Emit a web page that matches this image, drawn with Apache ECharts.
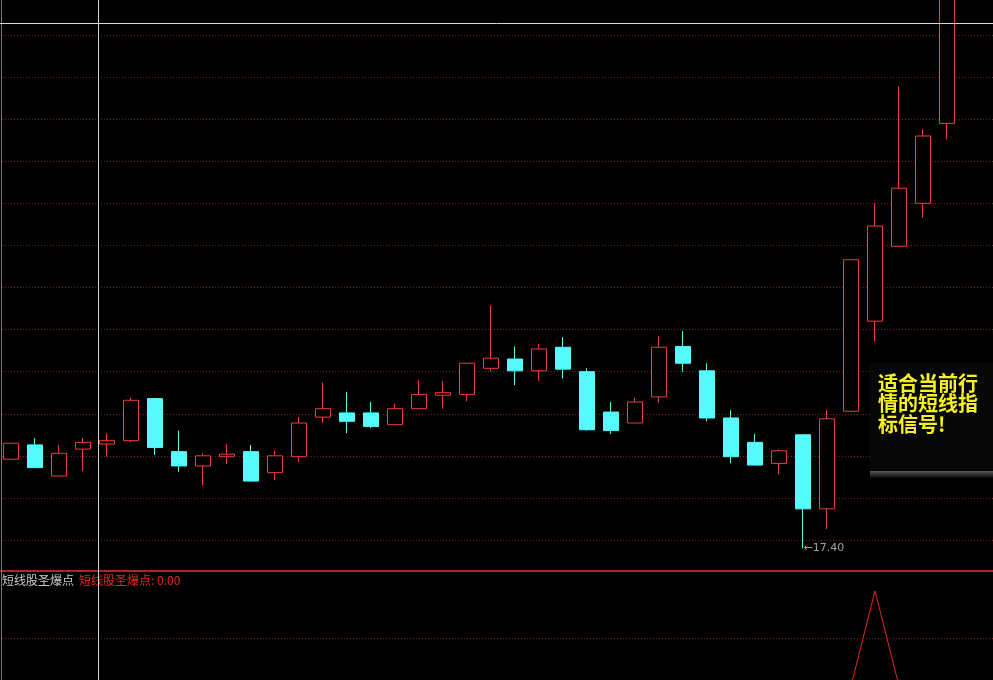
<!DOCTYPE html>
<html><head><meta charset="utf-8">
<script src="https://cdn.jsdelivr.net/npm/echarts@6/dist/echarts.min.js"></script>
<style>html,body{margin:0;padding:0;background:#000;}#c{width:993px;height:680px;}</style>
</head><body><div id="c"></div>
<script>
// ---- data ----
const days = ['1','2','3','4','5','6','7','8','9','10','11','12','13','14','15','16','17','18','19','20',
  '21','22','23','24','25','26','27','28','29','30','31','32','33','34','35','36','37','38','39','40','',''];
const opens  = [18.46,18.63,18.26,18.58,18.64,18.68,19.18,18.55,18.38,18.49,18.55,18.30,18.49,18.96,19.01,19.01,18.87,19.06,19.22,19.23,19.54,19.65,19.51,19.79,19.50,19.02,18.89,19.20,19.80,19.51,18.95,18.66,18.41,18.75,17.87,19.03,20.10,20.99,21.50,22.45];
const closes = [18.65,18.36,18.53,18.66,18.68,19.16,18.60,18.38,18.50,18.52,18.20,18.50,18.89,19.06,18.91,18.85,19.06,19.23,19.25,19.60,19.66,19.51,19.77,19.53,18.81,18.80,19.14,19.79,19.60,18.95,18.49,18.39,18.56,17.87,18.94,20.83,21.23,21.68,22.30,24.25];
const lows   = [18.46,18.36,18.26,18.32,18.49,18.66,18.51,18.31,18.15,18.40,18.20,18.21,18.43,18.89,18.77,18.83,18.87,19.06,19.06,19.15,19.50,19.34,19.39,19.42,18.80,18.76,18.89,19.13,19.50,18.91,18.41,18.39,18.28,17.40,17.63,19.03,19.86,20.99,21.33,22.26];
const highs  = [18.65,18.71,18.63,18.71,18.77,19.19,19.18,18.80,18.53,18.64,18.63,18.56,18.96,19.37,19.26,19.14,19.12,19.40,19.39,19.60,20.29,19.80,19.83,19.91,19.54,19.14,19.19,19.92,19.98,19.60,19.04,18.76,18.58,18.75,19.04,20.83,21.50,22.89,22.38,24.25];
const signal = [0,0,0,0,0,0,0,0,0,0,0,0,0,0,0,0,0,0,0,0,0,0,0,0,0,0,0,0,0,0,0,0,0,0,0,0,100,0,0,0];
const priceMin = 17.5, priceMax = 23.5, priceStep = 0.5;
const signalMax = 121, signalGrid = 50;
const indicatorName = '短线股圣爆点';
const noteText = '适合当前行\n情的短线指\n标信号!';

// ---- chart ----
const RED = '#f03c3c', CYAN = '#54fcfc', GRID = '#6e2222';
const kdata = opens.map((o, i) => [o, closes[i], lows[i], highs[i]]);
const lastSignal = signal[signal.length - 1].toFixed(2);
const minLow = Math.min(...lows);
const minIdx = lows.indexOf(minLow);

const chart = echarts.init(document.getElementById('c'), null, {renderer: 'canvas'});
chart.setOption({
  backgroundColor: '#000',
  animation: false,
  title: {
    left: -3, top: 566,
    text: '{a|' + indicatorName + '} {b|' + indicatorName + ': ' + lastSignal + '}',
    textStyle: {
      fontWeight: 'normal',
      rich: {
        a: {color: '#c8c8c8', fontSize: 12, fontWeight: 'normal', fontFamily: 'Noto Sans CJK SC'},
        b: {color: '#e02828', fontSize: 12, fontWeight: 'normal', fontFamily: 'Noto Sans CJK SC'}
      }
    }
  },
  grid: [
    {left: -1, width: 1008, top: 35, height: 505, outerBoundsMode: 'none', containLabel: false},
    {left: -1, width: 1008, top: 571, height: 115, outerBoundsMode: 'none', containLabel: false}
  ],
  xAxis: [
    {type: 'category', data: days, gridIndex: 0, boundaryGap: true,
     axisLine: {show: false}, axisTick: {show: false}, axisLabel: {show: false}, splitLine: {show: false}},
    {type: 'category', data: days, gridIndex: 1, boundaryGap: true,
     axisLine: {show: false}, axisTick: {show: false}, axisLabel: {show: false}, splitLine: {show: false}}
  ],
  yAxis: [
    {type: 'value', gridIndex: 0, min: priceMin, max: priceMax, interval: priceStep,
     axisLine: {show: false}, axisTick: {show: false}, axisLabel: {show: false},
     splitLine: {show: true, lineStyle: {color: GRID, width: 1, type: [1, 2]}}},
    {type: 'value', gridIndex: 1, min: 0, max: signalMax,
     axisLine: {show: false}, axisTick: {show: false}, axisLabel: {show: false}, splitLine: {show: false}}
  ],
  series: [
    {
      type: 'candlestick', xAxisIndex: 0, yAxisIndex: 0, data: kdata, barWidth: 16, clip: false,
      itemStyle: {color: '#000', color0: CYAN, borderColor: RED, borderColor0: CYAN, borderWidth: 1}
    },
    {
      type: 'scatter', xAxisIndex: 0, yAxisIndex: 0, symbol: 'rect', symbolSize: 1, silent: true, clip: false,
      itemStyle: {color: 'rgba(0,0,0,0)'},
      data: [[days[minIdx], minLow]],
      label: {show: true, position: 'right', distance: 0, color: '#c8c8c8', fontSize: 11,
              fontFamily: 'DejaVu Sans', formatter: p => '←' + Number(p.value[1]).toFixed(2)}
    },
    {
      type: 'line', xAxisIndex: 1, yAxisIndex: 1, data: signal, symbol: 'none',
      lineStyle: {color: '#e02828', width: 1},
      markLine: {
        silent: true, symbol: ['none', 'none'], label: {show: false},
        data: [{yAxis: signalGrid, lineStyle: {color: GRID, width: 1, type: [1, 2]}}]
      }
    }
  ],
  graphic: [
    {type: 'line', z: 100, shape: {x1: 1.5, y1: 0, x2: 1.5, y2: 680}, style: {stroke: '#7a7a7a', lineWidth: 1}},
    {type: 'line', z: 100, shape: {x1: 98.5, y1: 0, x2: 98.5, y2: 680}, style: {stroke: '#d8d8d8', lineWidth: 1}},
    {type: 'line', z: 100, shape: {x1: 0, y1: 23.5, x2: 993, y2: 23.5}, style: {stroke: '#d8d8d8', lineWidth: 1}},
    {type: 'rect', z: 99, shape: {x: 0, y: 570, width: 993, height: 2}, style: {fill: '#a82828'}},
    {type: 'rect', z: 90, shape: {x: 870, y: 363, width: 130, height: 110},
     style: {fill: '#070707'}},
    {type: 'rect', z: 91, shape: {x: 870, y: 471, width: 130, height: 7},
     style: {fill: new echarts.graphic.LinearGradient(0, 0, 0, 1, [
       {offset: 0, color: '#5a5a5a'}, {offset: 1, color: '#070707'}])}},
    {type: 'text', z: 95, left: 878, top: 373,
     style: {text: noteText, fill: '#f5f020', fontSize: 20, fontWeight: 'bold',
             fontFamily: 'Noto Sans CJK SC', lineHeight: 20.5}}
  ]
});
</script>
</body></html>
